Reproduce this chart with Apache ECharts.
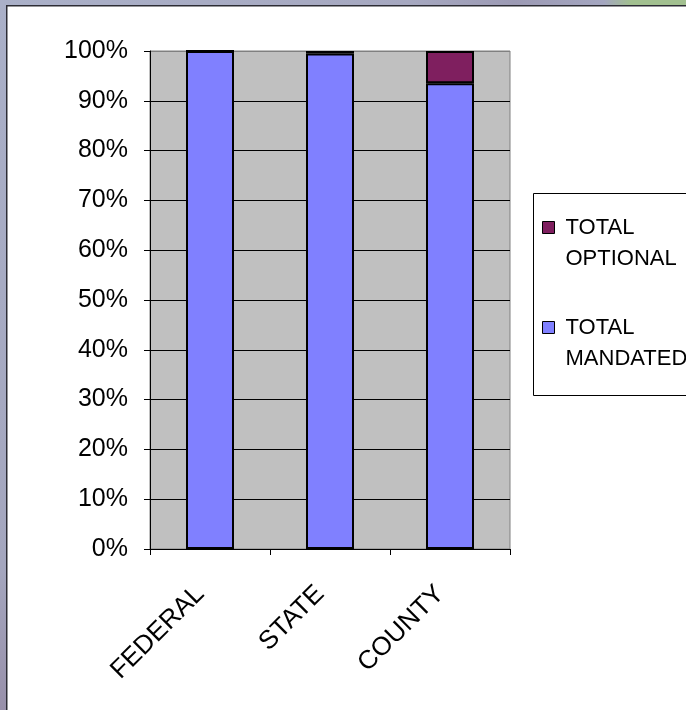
<!DOCTYPE html>
<html>
<head>
<meta charset="utf-8">
<script src="https://cdn.jsdelivr.net/npm/echarts@6/dist/echarts.min.js"></script>
<style>
  html, body { margin: 0; padding: 0; background: #ffffff; }
  #chart { width: 686px; height: 710px; }
</style>
</head>
<body>
<div id="chart"></div>
<script>
// Share of spending by level of government
const categories = ['FEDERAL', 'STATE', 'COUNTY'];
const mandatedPct = [100, 99.5, 93.5];
const optionalPct = [0, 0.5, 6.5];
const yTicks = [0, 10, 20, 30, 40, 50, 60, 70, 80, 90, 100];

const FONT = '"Liberation Sans", Arial, sans-serif';

const chart = echarts.init(document.getElementById('chart'), null, { renderer: 'canvas' });

// gridlines are black, except the top one which merges with the grey frame
const gridColors = yTicks.map(v => (v === 100 ? '#808080' : '#000000'));

chart.setOption({
  animation: false,
  backgroundColor: '#ffffff',
  graphic: [
    // slide backdrop around the chart sheet
    { type: 'rect', z: -10, silent: true, shape: { x: 0, y: 0, width: 686, height: 710 },
      style: { fill: new echarts.graphic.LinearGradient(0, 0, 0, 1, [
        { offset: 0, color: '#aab0c8' }, { offset: 0.8, color: '#a4a6be' }, { offset: 1, color: '#9890aa' }]) } },
    { type: 'rect', z: -9, silent: true, shape: { x: 0, y: 0, width: 686, height: 5 },
      style: { fill: new echarts.graphic.LinearGradient(0, 0, 1, 0, [
        { offset: 0, color: '#aab0c8' }, { offset: 0.6, color: '#a6a8c0' },
        { offset: 0.75, color: '#9c9ab4' }, { offset: 0.88, color: '#a4a6c0' },
        { offset: 0.92, color: '#a2c090' }, { offset: 1, color: '#a2c090' }]) } },
    { type: 'rect', z: -8, silent: true, shape: { x: 6, y: 5, width: 680, height: 705 },
      style: { fill: '#2c2c34' } },
    { type: 'rect', z: -7, silent: true, shape: { x: 7.5, y: 6.5, width: 679, height: 704 },
      style: { fill: '#ffffff' } },
    // legend frame
    { type: 'rect', z: 1, silent: true, shape: { x: 533.5, y: 193.5, width: 170, height: 202 },
      style: { fill: '#ffffff', stroke: '#000000', lineWidth: 1 } }
  ],
  grid: {
    left: 150, top: 51, width: 360, height: 498,
    show: true, backgroundColor: '#c0c0c0', borderColor: '#808080', borderWidth: 1
  },
  legend: {
    orient: 'vertical',
    left: 542, top: 181,
    padding: 0,
    itemGap: 7,
    itemWidth: 12, itemHeight: 12,
    icon: 'rect',
    selectedMode: false,
    data: ['TOTAL OPTIONAL', 'TOTAL MANDATED'],
    // a leading blank line keeps the first text line level with the swatch
    formatter: name => '\n' + name.replace(' ', '\n'),
    itemStyle: { borderColor: '#000000', borderWidth: 1 },
    textStyle: {
      fontFamily: FONT, fontSize: 22, color: '#000000', lineHeight: 31,
      padding: [0, 0, 0, 6]
    }
  },
  xAxis: {
    type: 'category',
    data: categories,
    boundaryGap: true,
    axisLine: { show: true, lineStyle: { color: '#000000', width: 1 } },
    axisTick: { show: true, alignWithLabel: false, length: 6, lineStyle: { color: '#000000' } },
    axisLabel: {
      rotate: 45, margin: 31, interval: 0,
      padding: [0, 14, 0, 0],
      fontFamily: FONT, fontSize: 26, color: '#000000'
    },
    splitLine: { show: false }
  },
  yAxis: {
    type: 'value',
    min: 0, max: 100, interval: 10,
    axisLine: { show: true, lineStyle: { color: '#000000', width: 1 } },
    axisTick: { show: true, length: 6, lineStyle: { color: '#000000' } },
    axisLabel: {
      margin: 22,
      fontFamily: FONT, fontSize: 25, color: '#000000',
      formatter: v => v + '%'
    },
    splitLine: { show: true, lineStyle: { color: gridColors, width: 1 } }
  },
  series: [
    {
      name: 'TOTAL MANDATED',
      type: 'bar',
      stack: 'total',
      barWidth: '40%',
      data: mandatedPct,
      itemStyle: { color: '#8080ff', borderColor: '#000000', borderWidth: 2 }
    },
    {
      name: 'TOTAL OPTIONAL',
      type: 'bar',
      stack: 'total',
      barWidth: '40%',
      data: optionalPct,
      itemStyle: { color: '#7f1f5f', borderColor: '#000000', borderWidth: 2 }
    }
  ]
});
</script>
</body>
</html>
